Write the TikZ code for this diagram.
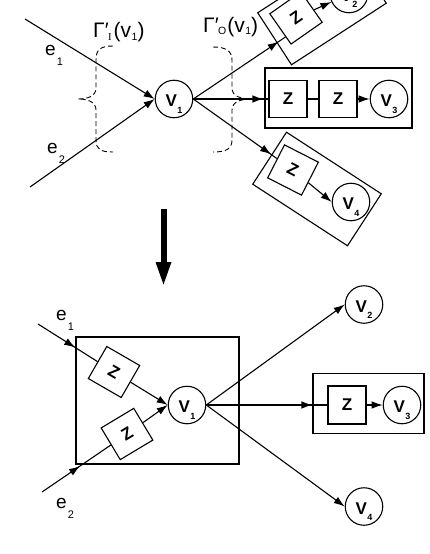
\documentclass[tikz,border=0pt]{standalone}
\usepackage{fontspec}
\setmainfont{Liberation Sans}
\newfontfamily\serifI{Liberation Serif}
\usetikzlibrary{arrows.meta,decorations.markings,calc}
\newcommand\vlab[1]{\rule{0pt}{15pt}V\kern0.5pt\raisebox{-6.5pt}[0pt][0pt]{\fontsize{9}{9}\selectfont #1}}
\newcommand\esub[1]{\kern1pt\raisebox{-10pt}[0pt][0pt]{\fontsize{11}{11}\selectfont #1}}
\newcommand\gsub[1]{\kern0.5pt\raisebox{-2.5pt}[0pt][0pt]{\fontsize{10.5}{10.5}\selectfont #1}}
\tikzset{
  edge/.style={line width=1.1pt},
  vnode/.style={circle,draw,line width=1.1pt,minimum size=37.5pt,inner sep=0pt,font=\fontsize{17}{17}\selectfont\bfseries},
  zbox/.style={draw,line width=1.1pt,minimum width=38pt,minimum height=37pt,inner sep=0pt,font=\fontsize{17}{17}\selectfont\bfseries},
  grp/.style={draw,line width=1.1pt,inner sep=0pt},
  arr/.style={-{Latex[length=11pt,width=7.5pt]}},
  midarr/.style={postaction={decorate,decoration={markings,mark=at position #1 with {\arrow{Latex[length=11pt,width=7.5pt]}}}}},
  bracestyle/.style={dash pattern=on 5pt off 3pt,line width=0.9pt},
  lbl/.style={font=\fontsize{19}{19}\selectfont,inner sep=0pt},
  glbl/.style={font=\fontsize{21}{21}\selectfont,inner sep=0pt},
}
\begin{document}
\begin{tikzpicture}[x=1pt,y=-1pt]
\useasboundingbox (0,0) rectangle (429,554);
\clip (0,0) rectangle (429,554);
% ---------- top half ----------
\node[vnode] (v1) at (174,99) {\vlab{1}};
\coordinate (e1s) at (25,19);
\coordinate (e2s) at (30,187);
\draw[edge,arr] (e1s) -- (v1.west);
\draw[edge,arr] (e2s) -- (v1.west);
\node[lbl,anchor=base west] (le1) at (45,55) {e\esub{1}};
\node[lbl,anchor=base west] (le2) at (47,153) {e\esub{2}};
\node[glbl,anchor=base west] (gi) at (93,37.5) {Γ′\kern-1pt\gsub{\serifI I}\kern2pt(v\gsub{1})};
\node[glbl,anchor=base west] (go) at (203,32) {Γ′\kern-1pt\gsub{O}\kern1pt(v\gsub{1})};
% braces
\draw[bracestyle] (113,46) .. controls (100,46) and (96,50) .. (96,60) -- (96,88)
  .. controls (96,96) and (88,99) .. (78,99) .. controls (88,99) and (96,102) .. (96,110)
  -- (96,140) .. controls (96,149) and (100,152) .. (113,152);
\draw[bracestyle] (213,47) .. controls (226,47) and (232,51) .. (232,60) -- (232,88)
  .. controls (232,96) and (240,99) .. (252,99) .. controls (240,99) and (232,102) .. (232,110)
  -- (232,140) .. controls (232,149) and (226,152) .. (213,152);
% upper group
\node[grp,rotate=33,minimum width=113pt,minimum height=62pt] (Gu) at (322,8) {};
\node[zbox,rotate=35] (Zu) at (296,18) {Z};
\node[vnode] (V2) at (349,-6) {\vlab{2}};
\draw[edge,midarr=-8pt] (v1.east) -- ($(Zu.west)!0.5!(Zu.south west)$);
\draw[edge,arr] (Zu) -- (V2);
% middle group
\node[grp,minimum width=147pt,minimum height=60pt] (Gm) at (338.5,98) {};
\node[zbox] (Z1) at (288,99) {Z};
\node[zbox] (Z2) at (338,99) {Z};
\node[vnode] (V3) at (389,99) {\vlab{3}};
\draw[edge,midarr=-5pt] (v1.east) -- (Z1.west);
\draw[edge] (Z1.east) -- (Z2.west);
\draw[edge,arr] (Z2.east) -- (V3.west);
% lower group
\node[grp,rotate=-33,minimum width=113pt,minimum height=62pt] (Gl) at (317,189) {};
\node[zbox,rotate=-27] (Zl) at (293,170) {Z};
\node[vnode] (V4) at (351,202) {\vlab{4}};
\draw[edge,midarr=-7pt] (v1.east) -- (Zl);
\draw[edge,arr] (Zl) -- (V4.west);
% ---------- big arrow ----------
\fill (160.5,209) rectangle (166.5,263);
\fill (155.5,262) -- (171.5,262) -- (163.5,284.5) -- cycle;
% ---------- bottom half ----------
\node[grp,minimum width=163pt,minimum height=127pt] (Bb) at (157.5,400.5) {};
\node[vnode] (v1b) at (187,405) {\vlab{1}};
\coordinate (e1b) at (38,324);
\coordinate (e2b) at (42,492);
\node[zbox,rotate=-30] (Zub) at (114,372) {Z};
\node[zbox,rotate=31] (Zlb) at (127,434) {Z};
\draw[edge,midarr=44pt] (e1b) -- (Zub);
\draw[edge,arr] (Zub) -- (v1b.west);
\draw[edge,midarr=46pt] (e2b) -- (Zlb);
\draw[edge,arr] (Zlb) -- (v1b.west);
\node[lbl,anchor=base west] (le1b) at (56,320) {e\esub{1}};
\node[lbl,anchor=base west] (le2b) at (56,508) {e\esub{2}};
% right side
\node[vnode] (V2b) at (364,304.5) {\vlab{2}};
\node[grp,minimum width=111pt,minimum height=60pt] (G3b) at (368.5,403.5) {};
\node[zbox,minimum height=38pt] (Z3b) at (347,405) {Z};
\node[vnode] (V3b) at (402,405) {\vlab{3}};
\node[vnode] (V4b) at (364,506.5) {\vlab{4}};
\draw[edge,arr] (v1b.east) -- (V2b.west);
\draw[edge,arr] (v1b.east) -- (V4b.west);
\draw[edge,midarr=-15pt] (v1b.east) -- (Z3b.west);
\draw[edge,arr] (Z3b.east) -- (V3b.west);
\end{tikzpicture}
\end{document}
